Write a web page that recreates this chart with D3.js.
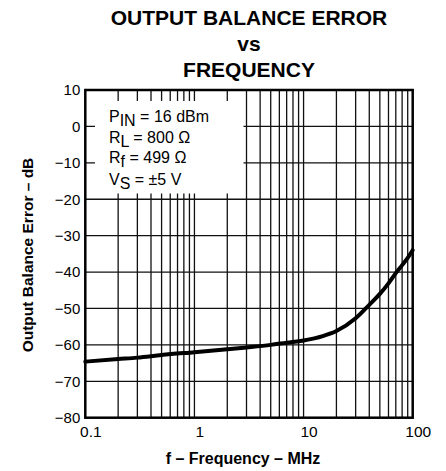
<!DOCTYPE html>
<html>
<head>
<meta charset="utf-8">
<script src="https://cdn.jsdelivr.net/npm/d3@7"></script>
<style>
  html, body { margin: 0; padding: 0; background: #fff; }
  svg { display: block; font-family: "Liberation Sans", Arial, Helvetica, sans-serif; }
</style>
</head>
<body>
<svg id="chart" width="446" height="471"></svg>
<script>
// Output balance error (dB) versus frequency (MHz)
const frequencyMHz = [0.1, 0.2, 0.3, 0.5, 1, 2, 3, 5, 7, 10, 15, 20, 30, 40, 50, 60, 70, 80, 90, 100];
const balanceErrorDb = [-64.6, -63.9, -63.5, -62.8, -62.0, -61.2, -60.7, -60.0, -59.4, -58.8, -57.6, -56.2, -52.7, -49.0, -46.0, -43.1, -40.3, -38.1, -36.1, -34.0];

const yTickValues = [10, 0, -10, -20, -30, -40, -50, -60, -70, -80];
const xTickValues = [0.1, 1, 10, 100];
const xTickLabels = ["0.1", "1", "10", "100"];

const titleLines = ["OUTPUT BALANCE ERROR", "vs", "FREQUENCY"];
const xTitle = "f \u2013 Frequency \u2013 MHz";
const yTitle = "Output Balance Error \u2013 dB";

// Test conditions: [main, subscript, rest]
const conditions = [
  ["P", "IN", " = 16 dBm"],
  ["R", "L", " = 800 \u03A9"],
  ["R", "f", " = 499 \u03A9"],
  ["V", "S", " = \u00B15 V"]
];

const svg = d3.select("#chart");
const plot = { left: 85.3, right: 412.7, top: 90, bottom: 417.7 };

const x = d3.scaleLog().domain([0.1, 100]).range([plot.left, plot.right]);
const y = d3.scaleLinear().domain([-80, 10]).range([plot.bottom, plot.top]);

// Title
svg.append("g").selectAll("text")
  .data(titleLines)
  .join("text")
  .attr("x", 249)
  .attr("y", (d, i) => [25, 51, 76.5][i])
  .attr("text-anchor", "middle")
  .attr("font-weight", "bold")
  .attr("font-size", 21)
  .attr("fill", "#000")
  .text(d => d);

// Log-scale grid: every 1..9 multiple inside the frame
const minorX = [];
[0.1, 1, 10].forEach(dec => {
  for (let k = 2; k <= 9; k++) minorX.push(dec * k);
  if (dec < 10) minorX.push(dec * 10);
});
const grid = svg.append("g").attr("stroke", "#111").attr("stroke-width", 1.3);
grid.selectAll("line.v")
  .data(minorX)
  .join("line")
  .attr("class", "v")
  .attr("x1", d => x(d)).attr("x2", d => x(d))
  .attr("y1", plot.top).attr("y2", plot.bottom);
grid.selectAll("line.h")
  .data(yTickValues.filter(v => v < 10 && v > -80))
  .join("line")
  .attr("class", "h")
  .attr("x1", plot.left).attr("x2", plot.right)
  .attr("y1", d => y(d)).attr("y2", d => y(d));

// Conditions box blanks out the grid behind it
svg.append("rect")
  .attr("x", 95).attr("y", 101)
  .attr("width", 148.5).attr("height", 92.5)
  .attr("fill", "#fff");

const cond = svg.append("g")
  .attr("font-size", 16)
  .attr("fill", "#000");
conditions.forEach((c, i) => {
  const t = cond.append("text")
    .attr("x", 109)
    .attr("y", [122, 142.5, 163, 184.5][i]);
  t.append("tspan").text(c[0]);
  t.append("tspan").attr("dy", 4).text(c[1]);
  t.append("tspan").attr("dy", -4).text(c[2]);
});

// Curve
const line = d3.line()
  .x((d, i) => x(frequencyMHz[i]))
  .y(d => y(d))
  .curve(d3.curveMonotoneX);
svg.append("path")
  .datum(balanceErrorDb)
  .attr("fill", "none")
  .attr("stroke", "#000")
  .attr("stroke-width", 4)
  .attr("stroke-linecap", "round")
  .attr("d", line);

// Frame
svg.append("rect")
  .attr("x", plot.left).attr("y", plot.top)
  .attr("width", plot.right - plot.left)
  .attr("height", plot.bottom - plot.top)
  .attr("fill", "none")
  .attr("stroke", "#000")
  .attr("stroke-width", 2.5);

// Y axis labels
const yAxis = d3.axisLeft(y)
  .tickValues(yTickValues)
  .tickSize(0)
  .tickPadding(5)
  .tickFormat(d3.format("d"));
const gy = svg.append("g")
  .attr("transform", `translate(${plot.left},0)`)
  .call(yAxis);
gy.select(".domain").remove();
gy.selectAll("text")
  .attr("font-family", "\"Liberation Sans\", Arial, sans-serif")
  .attr("font-size", 15)
  .attr("fill", "#000");

// X axis labels
const xAxis = d3.axisBottom(x)
  .tickValues(xTickValues)
  .tickSize(0)
  .tickPadding(8)
  .tickFormat((d, i) => xTickLabels[i]);
const gx = svg.append("g")
  .attr("transform", `translate(0,${plot.bottom})`)
  .call(xAxis);
gx.select(".domain").remove();
gx.selectAll("text")
  .attr("font-family", "\"Liberation Sans\", Arial, sans-serif")
  .attr("font-size", 15.5)
  .attr("dx", 5)
  .attr("fill", "#000");

// Axis titles
svg.append("text")
  .attr("x", 243)
  .attr("y", 464)
  .attr("text-anchor", "middle")
  .attr("font-weight", "bold")
  .attr("font-size", 16)
  .text(xTitle);

svg.append("text")
  .attr("transform", "translate(33,255) rotate(-90)")
  .attr("text-anchor", "middle")
  .attr("font-weight", "bold")
  .attr("font-size", 15.5)
  .text(yTitle);
</script>
</body>
</html>
